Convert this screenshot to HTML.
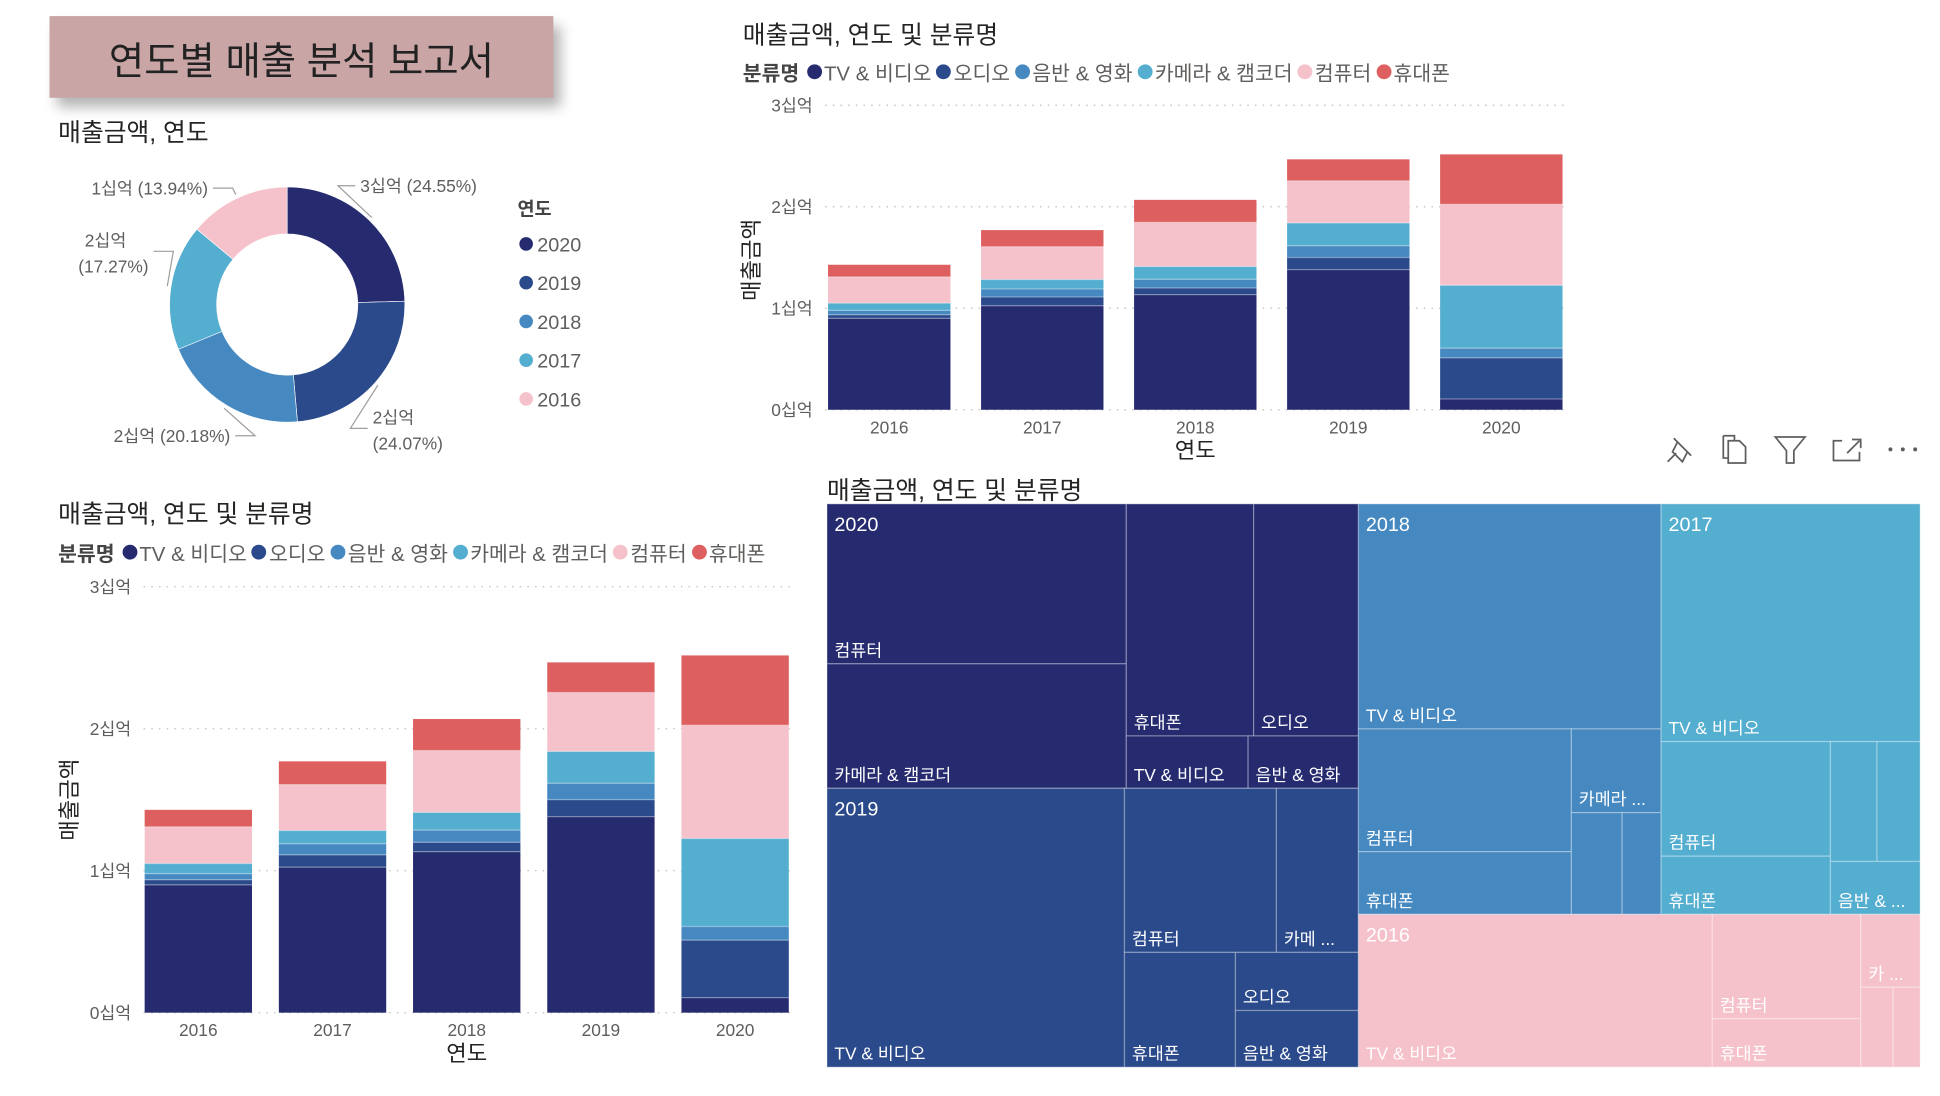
<!DOCTYPE html>
<html><head><meta charset="utf-8">
<style>
html,body{margin:0;padding:0;background:#fff;}
body{width:1940px;height:1096px;overflow:hidden;position:relative;font-family:"Liberation Sans","Noto Sans CJK KR",sans-serif;}
#root{position:absolute;left:0;top:0;width:1560px;height:881px;transform:scale(1.238);transform-origin:0 0;}
.title-box{position:absolute;left:40px;top:13px;width:407px;height:66px;background:#c9a5a5;box-shadow:6px 8px 10px rgba(0,0,0,0.3);display:flex;align-items:center;justify-content:center;font-size:31px;color:#222;}
.vt{position:absolute;font-size:20px;color:#252423;white-space:nowrap;}
.legend{position:absolute;display:flex;align-items:center;font-size:16.5px;color:#605E5C;white-space:nowrap;}
.legend b{color:#444;font-weight:bold;margin-right:6px;}
.legend span.it{display:flex;align-items:center;margin-right:4px;}
.legend i{display:inline-block;width:12px;height:12px;border-radius:50%;margin-right:2px;}
svg text{font-family:"Liberation Sans","Noto Sans CJK KR",sans-serif;}
</style></head>
<body>
<div id="root">
  <div class="title-box">연도별 매출 분석 보고서</div>
  <div class="vt" style="left:47px;top:91px">매출금액, 연도</div>
  <div class="vt" style="left:600px;top:12px">매출금액, 연도 및 분류명</div>
  <div class="vt" style="left:47px;top:399px">매출금액, 연도 및 분류명</div>
  <div class="vt" style="left:668px;top:380px">매출금액, 연도 및 분류명</div>
  <div id="legTop" class="legend" style="left:600px;top:46px"></div>
  <div id="legBot" class="legend" style="left:47px;top:434px"></div>
  <svg id="chart" width="1560" height="881" style="position:absolute;left:0;top:0"></svg>
</div>
<script>
const years = ["2016","2017","2018","2019","2020"];
const categories = ["TV & 비디오","오디오","음반 & 영화","카메라 & 캠코더","컴퓨터","휴대폰"];
const catColors = ["#262B70","#2B4A8B","#4689C1","#54AED0","#F5C2CB","#DD5F5F"];
const yearColors = {"2020":"#262B70","2019":"#2B4A8B","2018":"#4689C1","2017":"#54AED0","2016":"#F5C2CB"};
// values in 십억 (billions), per year, per category
const tvValues       = [0.900, 1.025, 1.134, 1.381, 0.106];
const audioValues    = [0.036, 0.086, 0.066, 0.119, 0.405];
const musicValues    = [0.043, 0.079, 0.086, 0.116, 0.096];
const cameraValues   = [0.072, 0.093, 0.125, 0.224, 0.620];
const computerValues = [0.258, 0.323, 0.435, 0.415, 0.797];
const phoneValues    = [0.1196, 0.164, 0.222, 0.212, 0.492];
const yTickValues = [0, 1, 2, 3];
const yTickLabels = ["0십억","1십억","2십억","3십억"];
const series = [tvValues, audioValues, musicValues, cameraValues, computerValues, phoneValues];

const NS = "http://www.w3.org/2000/svg";
const svg = document.getElementById('chart');
function mk(tag, attrs, parent){const e=document.createElementNS(NS,tag);for(const k in attrs)e.setAttribute(k,attrs[k]);(parent||svg).appendChild(e);return e;}
function txt(s, attrs, parent){const e=mk('text',attrs,parent);e.textContent=s;return e;}

function buildLegend(id){
  const L=document.getElementById(id);
  const b=document.createElement('b');b.textContent='분류명';L.appendChild(b);
  categories.forEach((c,i)=>{
    const s=document.createElement('span');s.className='it';
    
    
    const d=document.createElement('i');d.style.background=catColors[i];s.appendChild(d);
    s.appendChild(document.createTextNode(c));L.appendChild(s);
  });
}
buildLegend('legTop');buildLegend('legBot');

function stacked(o){
  const g=mk('g',{});
  
  
  const band=(o.x1-o.x0)/years.length;
  const xc=i=>o.x0+band*(i+0.5);
  const y=v=>o.y0-v*o.ppu;
  yTickValues.forEach((t,i)=>{
    const ln=mk('line',{x1:o.x0+10,x2:o.x1-10,y1:y(t),y2:y(t),stroke:'#c8c6c4','stroke-width':1.2,'stroke-dasharray':'1.2 5'},g);
    
    
    const tl=txt(yTickLabels[i],{x:o.x0,y:y(t)+5,'text-anchor':'end','font-size':14,fill:'#605E5C'},g);
    
    
  });
  const bw=band*0.8;
  years.forEach((yr,i)=>{
    let acc=0;
    series.forEach((s,k)=>{
      const v=s[i];
      const r=mk('rect',{x:xc(i)-bw/2,y:y(acc+v),width:bw,height:v*o.ppu,fill:catColors[k]},g);
      
      
      if(k>0){mk('line',{x1:xc(i)-bw/2,x2:xc(i)+bw/2,y1:y(acc),y2:y(acc),stroke:'rgba(255,255,255,0.35)','stroke-width':1},g);}
      acc+=v;
    });
    const xl=txt(yr,{x:xc(i),y:o.y0+19,'text-anchor':'middle','font-size':14,fill:'#605E5C'},g);
    
    
  });
  const xt=txt('연도',{x:(o.x0+o.x1)/2,y:o.y0+39,'text-anchor':'middle','font-size':18,fill:'#252423'},g);
  
  
  const yt=txt('매출금액',{x:0,y:0,'text-anchor':'middle','font-size':18,fill:'#252423',transform:`translate(${o.ytx},${o.yty}) rotate(-90)`},g);
  
  
}
stacked({name:'top-bar-chart',x0:656.5,x1:1274.5,y0:331,ppu:82,ytx:613,yty:210});
stacked({name:'bottom-bar-chart',x0:106,x1:648,y0:818,ppu:114.7,ytx:62,yty:646});

const yearTotals = years.map((y,i)=>series.reduce((a,s)=>a+s[i],0));
// label placement (layout only): elbow point, text anchor side, two-line flag
const labelLayout = {
  "2020":{ex:273,ey:150,right:true,two:false},
  "2019":{ex:283,ey:346,right:true,two:true},
  "2018":{ex:206,ey:352,right:false,two:false},
  "2017":{ex:140,ey:203,right:false,two:true},
  "2016":{ex:188,ey:152,right:false,two:false}
};
(function(){
  const g=mk('g',{});
  
  
  const cx=232,cy=246,R=95,r=57;
  const order=[4,3,2,1,0];
  const total=yearTotals.reduce((a,b)=>a+b,0);
  let ang=0;
  const pt=(a,rad)=>[cx+rad*Math.sin(a),cy-rad*Math.cos(a)];
  order.forEach(i=>{
    const frac=yearTotals[i]/total;const a0=ang,a1=ang+frac*2*Math.PI;ang=a1;
    const large=(a1-a0)>Math.PI?1:0;
    const p0=pt(a0,R),p1=pt(a1,R),q1=pt(a1,r),q0=pt(a0,r);
    const p=mk('path',{d:`M${p0}A${R},${R} 0 ${large} 1 ${p1}L${q1}A${r},${r} 0 ${large} 0 ${q0}Z`,fill:yearColors[years[i]],stroke:'#fff','stroke-width':0.5},g);
    
    
    const am=(a0+a1)/2;const L=labelLayout[years[i]];
    const e0=pt(am,R+3);
    const hx=L.ex+(L.right?14:-16);
    mk('polyline',{points:`${e0} ${L.ex},${L.ey} ${hx},${L.ey}`,fill:'none',stroke:'#a19f9d','stroke-width':1},g);
    const v=Math.round(yearTotals[i])+'십억', pc='('+(frac*100).toFixed(2)+'%)';
    const tx=hx+(L.right?4:-4), anc=L.right?'start':'end';
    if(L.two){
      const t1=txt(v,{x:L.right?tx:tx-18,y:L.ey-4,'text-anchor':anc,'font-size':14,fill:'#605E5C'},g);
      
      
      const t2=txt(pc,{x:tx,y:L.ey+17,'text-anchor':anc,'font-size':14,fill:'#605E5C'},g);
      
      
    } else {
      const t=txt(v+' '+pc,{x:tx,y:L.ey+5,'text-anchor':anc,'font-size':14,fill:'#605E5C'},g);
      
      
    }
  });
  const lt=txt('연도',{x:418,y:174,'font-size':15,'font-weight':'bold',fill:'#444'},g);
  
  
  order.forEach((i,k)=>{
    const yy=197+k*31.3;
    const c=mk('circle',{cx:425,cy:yy,r:5.5,fill:yearColors[years[i]]},g);
    
    
    const t=txt(years[i],{x:434,y:yy+6,'font-size':16,fill:'#605E5C'},g);
    
    
  });
})();

const PHI=(1+Math.sqrt(5))/2;
function squarify(nodes,x0,y0,x1,y1){
  nodes=nodes.slice().sort((a,b)=>b.value-a.value);
  let value=nodes.reduce((a,n)=>a+n.value,0);const out=[];let i0=0,i1=0;const n=nodes.length;
  while(i0<n){
    const dx=x1-x0,dy=y1-y0;
    let sum=nodes[i1++].value,minV=sum,maxV=sum;
    const alpha=Math.max(dy/dx,dx/dy)/(value*PHI);
    let beta=sum*sum*alpha;let minRatio=Math.max(maxV/beta,beta/minV);
    for(;i1<n;++i1){const nv=nodes[i1].value;sum+=nv;if(nv<minV)minV=nv;if(nv>maxV)maxV=nv;beta=sum*sum*alpha;const nr=Math.max(maxV/beta,beta/minV);if(nr>minRatio){sum-=nv;break;}minRatio=nr;}
    const row=nodes.slice(i0,i1);
    if(dx<dy){const h=dy*sum/value;let x=x0;row.forEach(nd=>{const w=dx*nd.value/sum;out.push({n:nd,x0:x,y0:y0,x1:x+w,y1:y0+h});x+=w;});y0+=h;}
    else{const w=dx*sum/value;let y=y0;row.forEach(nd=>{const h=dy*nd.value/sum;out.push({n:nd,x0:x0,y0:y,x1:x0+w,y1:y+h});y+=h;});x0+=w;}
    value-=sum;i0=i1;
  }
  return out;
}
function fitText(s,w){
  const cw=ch=>/[\u3131-\uD79D]/.test(ch)?14:(ch===' '?4:8);
  let tot=0;for(const ch of s)tot+=cw(ch);
  if(tot<=w)return s;
  let r='',acc=0;for(const ch of s){if(acc+cw(ch)+18>w)break;r+=ch;acc+=cw(ch);}
  r=r.trimEnd();
  return r?r+' ...':'';
}
(function(){
  const g=mk('g',{});
  
  
  const yNodes=years.map((y,i)=>({name:y,i:i,value:yearTotals[i]}));
  const yr=squarify(yNodes,668,407,1551,862);
  yr.forEach(Y=>{
    const i=Y.n.i;
    const cNodes=categories.map((c,k)=>({name:c,value:series[k][i]}));
    const cells=squarify(cNodes,Y.x0,Y.y0,Y.x1,Y.y1);
    cells.forEach(C=>{
      const r=mk('rect',{x:C.x0,y:C.y0,width:C.x1-C.x0,height:C.y1-C.y0,fill:yearColors[Y.n.name],stroke:'rgba(255,255,255,0.3)','stroke-width':1},g);
      
      
      const w=C.x1-C.x0-10;
      if(C.y1-C.y0>20&&w>14){
        const s=fitText(C.n.name,w);
        if(s){const t=txt(s,{x:C.x0+6,y:C.y1-6,'font-size':14,fill:'#fff'},g);
        
        }
      }
    });
    const yl=txt(Y.n.name,{x:Y.x0+6,y:Y.y0+22,'font-size':16,fill:'#fff'},g);
    
    
  });
})();

(function(){
  const g=mk('g',{fill:'none',stroke:'#605E5C','stroke-width':1.4});
  
  
  const pin=mk('path',{d:'M1347,373 L1354,366 M1352,354 L1366,368 M1355,357 L1351,365 L1359,373 L1363,365 Z'},g);
  
  const cp=mk('path',{d:'M1392,352 h9 l0,4 M1392,352 v18 h4 M1396,356 h9 l5,5 v13 h-14 Z'},g);
  
  const fl=mk('path',{d:'M1434,353 h24 l-9,11 v10 h-6 v-10 Z'},g);
  
  const ex=mk('path',{d:'M1488,356 h-7 v16 h21 v-7 M1492,366 l10,-10 M1496,355 h7 v7'},g);
  
  [1527,1537,1547].forEach(x=>mk('circle',{cx:x,cy:363,r:1.6,fill:'#605E5C',stroke:'none'},g));
})();
</script>
</body></html>
